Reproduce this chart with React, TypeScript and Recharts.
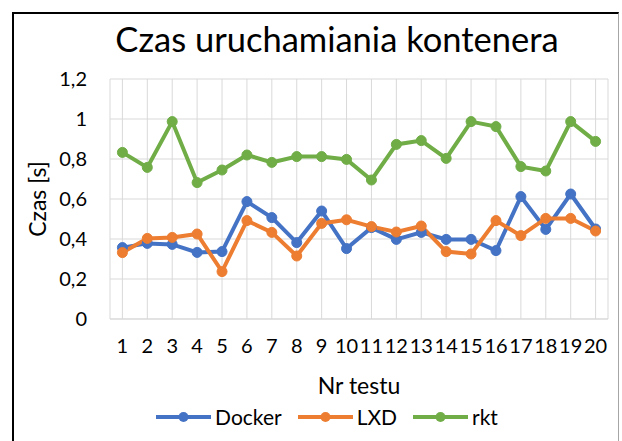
import React from 'react';
import { LineChart, Line, XAxis, YAxis, CartesianGrid, Legend } from 'recharts';

const tests = ['1', '2', '3', '4', '5', '6', '7', '8', '9', '10', '11', '12', '13', '14', '15', '16', '17', '18', '19', '20'];
const docker = [0.357, 0.378, 0.373, 0.333, 0.337, 0.587, 0.507, 0.382, 0.54, 0.352, 0.457, 0.398, 0.433, 0.398, 0.398, 0.342, 0.612, 0.448, 0.625, 0.45];
const lxd = [0.332, 0.403, 0.408, 0.425, 0.237, 0.492, 0.433, 0.315, 0.478, 0.496, 0.462, 0.435, 0.465, 0.337, 0.325, 0.492, 0.417, 0.503, 0.503, 0.44];
const rkt = [0.833, 0.758, 0.987, 0.682, 0.745, 0.82, 0.783, 0.812, 0.812, 0.798, 0.695, 0.873, 0.892, 0.803, 0.987, 0.962, 0.762, 0.74, 0.987, 0.888];
const yTicks = [0, 0.2, 0.4, 0.6, 0.8, 1, 1.2];

const SERIES = [
  { key: 'Docker', color: '#4472C4' },
  { key: 'LXD', color: '#ED7D31' },
  { key: 'rkt', color: '#70AD47' },
];

const data = tests.map((t, i) => ({ nr: t, Docker: docker[i], LXD: lxd[i], rkt: rkt[i] }));

const FONT = 'Lato, "Open Sans", sans-serif';

function LegendContent() {
  return (
    <div style={{ display: 'flex', justifyContent: 'center', alignItems: 'center', fontFamily: FONT, fontSize: 21, color: '#000', paddingLeft: 32 }}>
      {SERIES.map((s, i) => (
        <div key={s.key} style={{ display: 'flex', alignItems: 'center', marginLeft: i ? 16 : 0 }}>
          <svg width={55} height={12} style={{ marginRight: 4 }}>
            <line x1={0} y1={6} x2={55} y2={6} stroke={s.color} strokeWidth={4} />
            <circle cx={27.5} cy={6} r={5} fill={s.color} />
          </svg>
          <span>{s.key}</span>
        </div>
      ))}
    </div>
  );
}

function YLabel({ viewBox }: any) {
  const cx = viewBox.x + 37;
  const cy = viewBox.y + viewBox.height / 2;
  return (
    <text x={cx} y={cy} transform={`rotate(-90 ${cx} ${cy})`} textAnchor="middle" dominantBaseline="central"
      style={{ fontFamily: FONT, fontSize: 23, fill: '#000' }}>
      Czas [s]
    </text>
  );
}

export default function App() {
  return (
    <div style={{ position: 'absolute', left: 0, top: 0, width: 622, height: 441, overflow: 'hidden', background: '#fff' }}>
      <div style={{ position: 'absolute', left: 12, top: 12, width: 604, height: 500, borderLeft: '2px solid #000', borderTop: '2px solid #000', borderRight: '1px solid #a6a6a6' }} />
      <div style={{ position: 'absolute', left: 337, top: 22, transform: 'translateX(-50%)', whiteSpace: 'nowrap', fontFamily: FONT, fontSize: 34.5, lineHeight: '33px', color: '#000' }}>
        Czas uruchamiania kontenera
      </div>
      <div style={{ position: 'absolute', left: 0, top: 0 }}>
        <LineChart width={622} height={441} data={data} margin={{ top: 79, right: 14, left: 0, bottom: 68 }}>
          <CartesianGrid stroke="#d9d9d9" strokeWidth={1} />
          <XAxis dataKey="nr" height={54} tickSize={0} tickMargin={20} interval={0}
            padding={{ left: 12.4, right: 12.4 }}
            axisLine={{ stroke: '#d9d9d9' }}
            tick={{ fontFamily: FONT, fontSize: 20, fill: '#000' }}
            label={{ value: 'Nr testu', position: 'bottom', offset: 5, style: { fontFamily: FONT, fontSize: 23, fill: '#000' } }} />
          <YAxis width={110} domain={[0, 1.2]} ticks={yTicks} tickSize={0} tickMargin={23} axisLine={false}
            tickFormatter={(v: number) => String(v).replace('.', ',')}
            tick={{ fontFamily: FONT, fontSize: 20, fill: '#000' }}
            label={<YLabel />} />
          <Legend verticalAlign="middle" align="center" content={<LegendContent />}
            wrapperStyle={{ top: 404, left: 0, width: 622 }} />
          {SERIES.map(s => (
            <Line key={s.key} type="linear" dataKey={s.key} stroke={s.color} strokeWidth={4}
              dot={{ r: 5, fill: s.color, stroke: s.color, strokeWidth: 1 }} isAnimationActive={false} />
          ))}
        </LineChart>
      </div>
    </div>
  );
}
